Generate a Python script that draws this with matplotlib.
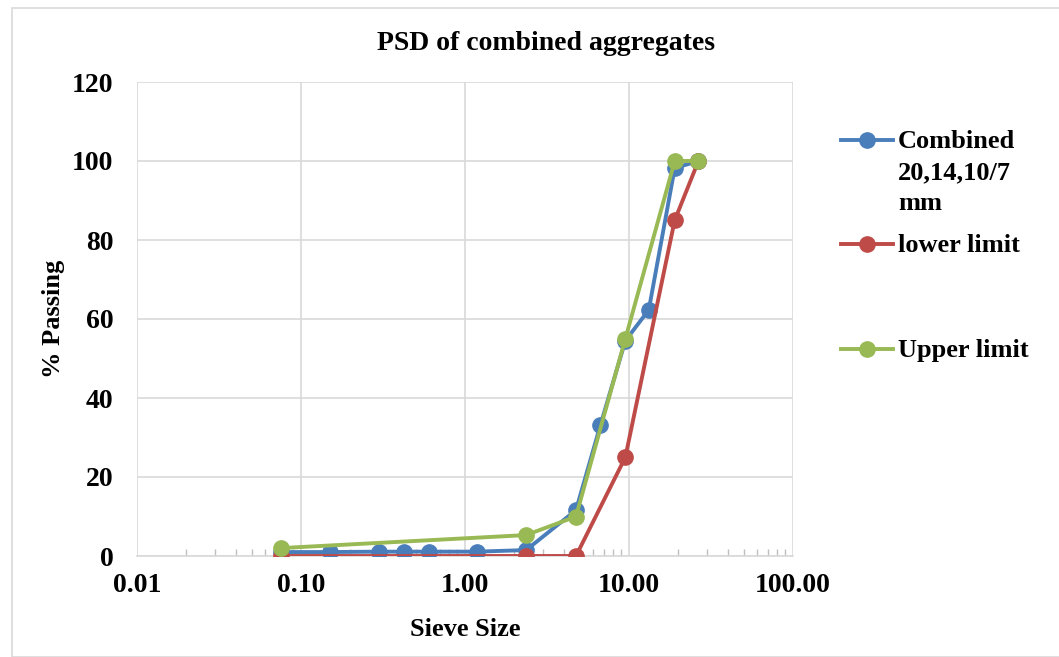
import matplotlib
matplotlib.use("Agg")
import matplotlib.pyplot as plt
from matplotlib.lines import Line2D
from matplotlib.patches import Rectangle
from matplotlib.ticker import FixedLocator, LogLocator, NullFormatter

plt.rcParams['font.family'] = ['Liberation Serif', 'DejaVu Serif']
plt.rcParams['font.weight'] = 'bold'

sieve_combined = [0.075, 0.15, 0.3, 0.425, 0.6, 1.18, 2.36, 4.75, 6.7, 9.5, 13.2, 19.0, 26.5]
pass_combined = [1.0, 1.0, 1.1, 1.1, 1.1, 1.1, 1.5, 11.6, 33.2, 54.5, 62.3, 98.2, 100.0]
sieve_limits = [0.075, 2.36, 4.75, 9.5, 19.0, 26.5]
lower_limit = [0.0, 0.0, 0.0, 25.0, 85.0, 100.0]
upper_limit = [2.0, 5.3, 10.0, 55.0, 100.0, 100.0]
series_labels = ["Combined\n20,14,10/7\nmm", "lower limit", "Upper limit"]
colors = ["#4a7ebb", "#be4b48", "#98b954"]
xticks = [0.01, 0.1, 1, 10, 100]
xtick_labels = ["0.01", "0.10", "1.00", "10.00", "100.00"]
yticks = [0, 20, 40, 60, 80, 100, 120]

W, H = 1059, 657
fig = plt.figure(figsize=(W / 100, H / 100), dpi=100)
fig.patches.append(Rectangle((12 / W, 0), 1, 1 - 8 / H, transform=fig.transFigure,
                             fill=False, edgecolor="#d9d9d9", linewidth=1.2))

ax = fig.add_axes([137 / W, 1 - 556 / H, (793 - 137) / W, (556 - 82) / H])
ax.set_xscale('log')
ax.set_xlim(0.01, 100)
ax.set_ylim(0, 120)

LW, MS = 2.8, 11
ax.plot(sieve_combined, pass_combined, color=colors[0], lw=LW, marker='o', ms=MS, zorder=3)
ax.plot(sieve_limits, lower_limit, color=colors[1], lw=LW, marker='o', ms=MS, zorder=3)
ax.plot(sieve_limits, upper_limit, color=colors[2], lw=LW, marker='o', ms=MS, zorder=4)

ax.xaxis.set_major_locator(FixedLocator(xticks))
ax.set_xticklabels(xtick_labels)
ax.xaxis.set_minor_locator(LogLocator(base=10, subs=range(2, 10)))
ax.xaxis.set_minor_formatter(NullFormatter())
ax.set_yticks(yticks)
ax.grid(True, which='major', color='#d9d9d9', lw=1.2)
ax.set_axisbelow(True)
for s in ['top', 'right', 'left']:
    ax.spines[s].set_visible(False)
ax.spines['bottom'].set_color('#d9d9d9')
ax.spines['bottom'].set_linewidth(1.2)
ax.tick_params(axis='x', which='minor', direction='in', length=5, color='#bfbfbf', width=1)
ax.tick_params(axis='x', which='major', length=0, pad=12, labelsize=20)
ax.tick_params(axis='y', length=0, pad=17, labelsize=20)
for lbl in ax.get_xticklabels() + ax.get_yticklabels():
    lbl.set_fontweight('bold')

ax.set_xlabel("Sieve Size", fontsize=19, fontweight='bold', labelpad=15)
ax.set_ylabel("% Passing", fontsize=19, fontweight='bold', labelpad=5)
fig.text(546 / W, 1 - 44 / H, "PSD of combined aggregates", ha='center', va='center',
         fontsize=20, fontweight='bold')

# legend
leg_y = [140, 244, 349]
line_step = 31
for lab, c, y in zip(series_labels, colors, leg_y):
    fig.lines.append(Line2D([841 / W, 893 / W], [1 - y / H, 1 - y / H], transform=fig.transFigure,
                            color=c, lw=LW))
    fig.lines.append(Line2D([867 / W], [1 - y / H], transform=fig.transFigure,
                            color=c, marker='o', ms=MS))
    for i, part in enumerate(lab.split("\n")):
        fig.text(898 / W, 1 - (y + 8 + i * line_step) / H, part, ha='left', va='baseline',
                 fontsize=19, fontweight='bold')

fig.savefig("out.png", dpi=100)
